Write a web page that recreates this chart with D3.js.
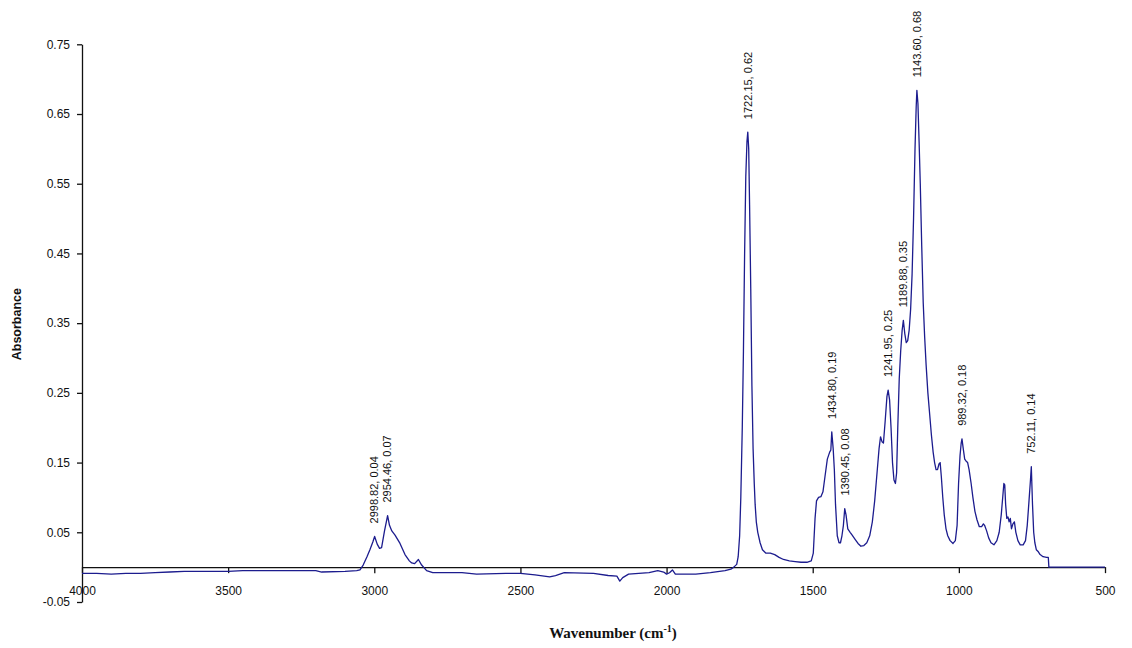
<!DOCTYPE html>
<html>
<head>
<meta charset="utf-8">
<script src="https://cdn.jsdelivr.net/npm/d3@7"></script>
<style>
  html, body { margin: 0; padding: 0; background: #fff; }
  svg { display: block; }
  .tick text { font-family: "Liberation Sans", Arial, sans-serif; font-size: 12px; fill: #111; }
  .peak-label { font-family: "Liberation Sans", Arial, sans-serif; font-size: 11px; fill: #111; }
</style>
</head>
<body>
<svg id="chart" width="1132" height="648"></svg>
<script>
// FTIR spectrum: wavenumber (cm-1) and absorbance, in descending wavenumber order
const wavenumber = [
  4000, 3950, 3900, 3850, 3800, 3750, 3700, 3650, 3600, 3550, 3500, 3450, 3400, 3300, 3200, 3180, 3100, 3060, 3049,
  3038, 3025, 3015, 3005, 2998.82, 2990, 2982, 2975, 2965, 2954.46, 2948, 2940, 2929, 2912, 2895, 2880, 2872, 2862,
  2849, 2838, 2821, 2800, 2700, 2650, 2550, 2500, 2450, 2400, 2380, 2350, 2250, 2200, 2170, 2160, 2150, 2130, 2060,
  2030, 2010, 2000, 1990, 1980, 1970, 1900, 1850, 1800, 1780, 1770, 1760, 1755, 1750, 1746, 1741, 1737, 1733, 1729,
  1725, 1722.15, 1719, 1716, 1712, 1708, 1704, 1700, 1697, 1693, 1688, 1680, 1672, 1660, 1645, 1630, 1615, 1600,
  1580, 1560, 1540, 1520, 1505, 1498, 1492, 1487, 1480, 1472, 1465, 1458, 1450, 1442, 1438, 1434.8, 1430, 1426,
  1422, 1416, 1410, 1405, 1400, 1395, 1390.45, 1386, 1380, 1372, 1365, 1355, 1345, 1335, 1325, 1315, 1305, 1296,
  1288, 1280, 1273, 1268, 1263, 1258, 1252, 1246, 1241.95, 1237, 1232, 1227, 1222, 1217, 1213, 1209, 1204, 1199,
  1194, 1189.88, 1185, 1180, 1175, 1170, 1165, 1160, 1155, 1150, 1146, 1143.6, 1140, 1136, 1132, 1127, 1122, 1117,
  1112, 1106, 1100, 1094, 1088, 1083, 1078, 1073, 1068, 1064, 1060, 1055, 1050, 1044, 1038, 1030, 1020, 1012, 1006,
  1001, 996, 992, 989.32, 985, 980, 975, 970, 965, 958, 952, 945, 938, 930, 922, 916, 912, 905, 898, 890, 880, 870,
  862, 855, 850, 846, 843, 840, 836, 832, 828, 824, 820, 815, 810, 805, 798, 790, 780, 772, 766, 760, 755, 752.11,
  748, 744, 740, 735, 728, 722, 712, 700, 694, 692, 600, 500
];
const absorbance = [
  -0.009, -0.009, -0.010, -0.009, -0.009, -0.008, -0.007, -0.006, -0.006, -0.006, -0.006, -0.005, -0.005, -0.005, -0.005, -0.007, -0.006, -0.005, -0.004,
  0.003, 0.015, 0.025, 0.036, 0.044, 0.033, 0.027, 0.028, 0.052, 0.074, 0.060, 0.052, 0.046, 0.034, 0.018, 0.009, 0.006, 0.005,
  0.011, 0.003, -0.005, -0.008, -0.008, -0.010, -0.009, -0.009, -0.011, -0.014, -0.012, -0.008, -0.009, -0.012, -0.013, -0.020, -0.015, -0.010, -0.008,
  -0.005, -0.007, -0.010, -0.008, -0.004, -0.010, -0.010, -0.008, -0.005, -0.003, 0.000, 0.004, 0.015, 0.045, 0.100, 0.200, 0.310, 0.450, 0.560,
  0.610, 0.624, 0.600, 0.520, 0.400, 0.260, 0.170, 0.120, 0.090, 0.065, 0.050, 0.035, 0.025, 0.020, 0.020, 0.018, 0.014, 0.011,
  0.009, 0.008, 0.007, 0.007, 0.009, 0.020, 0.070, 0.095, 0.100, 0.101, 0.108, 0.130, 0.155, 0.165, 0.168, 0.194, 0.170, 0.140,
  0.090, 0.045, 0.035, 0.035, 0.045, 0.060, 0.084, 0.075, 0.055, 0.050, 0.046, 0.040, 0.034, 0.030, 0.031, 0.035, 0.045, 0.065,
  0.095, 0.135, 0.170, 0.187, 0.180, 0.178, 0.210, 0.245, 0.254, 0.240, 0.200, 0.150, 0.125, 0.120, 0.135, 0.200, 0.270, 0.310,
  0.340, 0.354, 0.335, 0.322, 0.325, 0.340, 0.370, 0.420, 0.500, 0.600, 0.660, 0.684, 0.665, 0.610, 0.550, 0.460, 0.380, 0.330,
  0.290, 0.250, 0.220, 0.190, 0.165, 0.150, 0.140, 0.140, 0.148, 0.150, 0.130, 0.100, 0.075, 0.055, 0.045, 0.038, 0.034, 0.038, 0.060,
  0.120, 0.160, 0.178, 0.184, 0.170, 0.155, 0.152, 0.150, 0.140, 0.120, 0.100, 0.080, 0.068, 0.058, 0.058, 0.062, 0.060, 0.052, 0.042, 0.035, 0.032, 0.038,
  0.050, 0.075, 0.100, 0.120, 0.118, 0.090, 0.070, 0.072, 0.065, 0.070, 0.055, 0.062, 0.065, 0.050, 0.038, 0.032, 0.032, 0.038, 0.060, 0.095, 0.125, 0.144,
  0.090, 0.050, 0.035, 0.025, 0.022, 0.018, 0.015, 0.014, 0.014, 0.000, 0.000, 0.000
];

// Annotated peak positions (cm-1); the absorbance shown comes from the spectrum itself
const peakWavenumbers = [2998.82, 2954.46, 1722.15, 1434.8, 1390.45, 1241.95, 1189.88, 1143.6, 989.32, 752.11];

const xTicks = [4000, 3500, 3000, 2500, 2000, 1500, 1000, 500];
const yTicks = [-0.05, 0.05, 0.15, 0.25, 0.35, 0.45, 0.55, 0.65, 0.75];

const svg = d3.select("#chart");
const plotLeft = 82, plotRight = 1105, plotTop = 44.3, plotBottom = 602;

const x = d3.scaleLinear().domain([4000, 500]).range([plotLeft, plotRight]);
const y = d3.scaleLinear().domain([-0.05, 0.75]).range([plotBottom, plotTop]);

const spectrum = wavenumber.map((w, i) => ({ w, a: absorbance[i] }));

// Y axis (plain hyphen for negative values)
const yAxis = svg.append("g")
  .attr("transform", `translate(${plotLeft},0)`)
  .call(d3.axisLeft(y).tickValues(yTicks).tickFormat(d => d.toFixed(2)).tickSize(5).tickPadding(7).tickSizeOuter(0));
yAxis.select(".domain").attr("stroke", "#111").attr("stroke-width", 1.3);
yAxis.selectAll(".tick line").attr("stroke", "#111").attr("stroke-width", 1.3);

// X axis crossing at absorbance 0
const xAxis = svg.append("g")
  .attr("transform", `translate(0,${y(0)})`)
  .call(d3.axisBottom(x).tickValues(xTicks).tickFormat(d3.format("d")).tickSize(6).tickPadding(13).tickSizeOuter(0));
xAxis.select(".domain").attr("stroke", "#111").attr("stroke-width", 1.3);
xAxis.selectAll(".tick line").attr("stroke", "#111").attr("stroke-width", 1.3);

// Spectrum line
const line = d3.line().x(d => x(d.w)).y(d => y(d.a));
svg.append("path")
  .datum(spectrum)
  .attr("fill", "none")
  .attr("stroke", "#1c1c8e")
  .attr("stroke-width", 1.3)
  .attr("stroke-linejoin", "round")
  .attr("d", line);

// Peak annotations, rotated upward from just above each peak
const peaks = peakWavenumbers.map(w => spectrum.find(d => d.w === w));
svg.selectAll(".peak-label")
  .data(peaks)
  .join("text")
  .attr("class", "peak-label")
  .attr("transform", d => `translate(${x(d.w)},${y(d.a) - 13}) rotate(-90)`)
  .attr("dy", "0.35em")
  .attr("text-anchor", "start")
  .text(d => `${d.w.toFixed(2)}, ${d.a.toFixed(2)}`);

// Axis titles
svg.append("text")
  .attr("transform", `translate(21,${(plotTop + plotBottom) / 2 + 1}) rotate(-90)`)
  .attr("text-anchor", "middle")
  .style("font-family", "'Liberation Sans', Arial, sans-serif")
  .style("font-size", "12.5px")
  .style("font-weight", "bold")
  .style("fill", "#111")
  .text("Absorbance");

const xTitle = svg.append("text")
  .attr("x", 613)
  .attr("y", 638)
  .attr("text-anchor", "middle")
  .style("font-family", "'Liberation Serif', 'Times New Roman', serif")
  .style("font-size", "15px")
  .style("font-weight", "bold")
  .style("fill", "#111");
xTitle.append("tspan").text("Wavenumber (cm");
xTitle.append("tspan").attr("dy", "-6").style("font-size", "10px").text("-1");
xTitle.append("tspan").attr("dy", "6").text(")");
</script>
</body>
</html>
